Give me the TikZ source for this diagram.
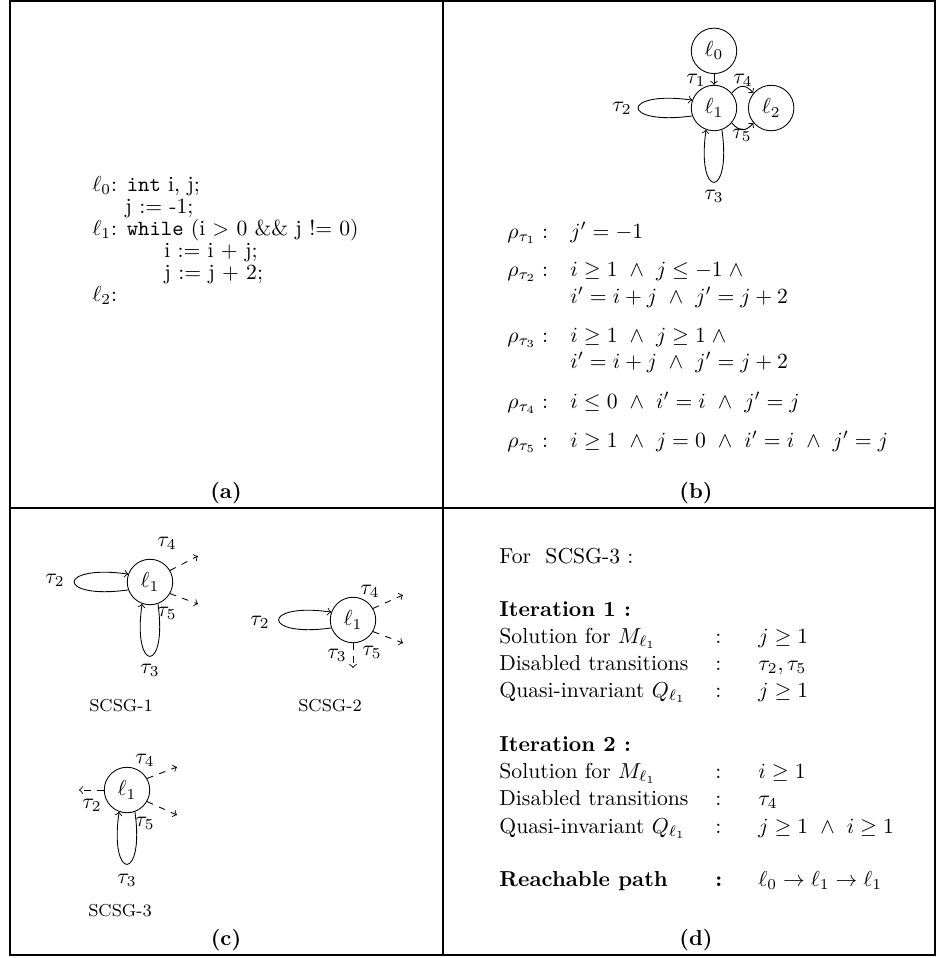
\documentclass[tikz,border=0pt]{standalone}
\usepackage{amsmath,amssymb}
\usetikzlibrary{positioning}

\begin{document}
\begin{tikzpicture}[
  x=0.4619pt,y=-0.4619pt,
  loc/.style={draw,circle,minimum size=21pt,inner sep=0pt},
  arr/.style={->},
  darr/.style={->,dashed},
  txt/.style={anchor=base west,inner sep=0pt},
  lbl/.style={inner sep=0pt},
  capt/.style={inner sep=0pt,font=\bfseries},
  sub/.style={inner sep=0pt,font=\footnotesize},
  tabline/.style={line width=0.9pt}
]
  \useasboundingbox (0,0) rectangle (945,958);

  % table frame
  \draw[tabline] (10,1) rectangle (935,955);
  \draw[tabline] (443,1) -- (443,955);
  \draw[tabline] (10,508) -- (935,508);

  \node[capt] (capa) at (226,493) {(a)};
  \node[capt] (capb) at (696,493) {(b)};
  \node[capt] (capc) at (226,940) {(c)};
  \node[capt] (capd) at (696,940) {(d)};

  % (a) program
  \node[txt] (a0) at (92,191) {$\ell_0$: \texttt{int} i, j;};
  \node[txt] (a1) at (125,213) {j := -1;};
  \node[txt] (a2) at (92,235) {$\ell_1$: \texttt{while} (i $>$ 0 \&\& j != 0)};
  \node[txt] (a3) at (164,257) {i := i + j;};
  \node[txt] (a4) at (164,279) {j := j + 2;};
  \node[txt] (a5) at (92,301) {$\ell_2$:};

  % (b) control flow graph
  \node[loc] (b1) at (714,108) {$\ell_1$};
  \node[loc,above=5pt of b1] (b0) {$\ell_0$};
  \node[loc,right=5pt of b1] (b2) {$\ell_2$};
  \draw[arr] (b0) -- (b1);
  \draw[arr] (b1.40) .. controls +(8,-9) and +(-8,-9) .. (b2.140);
  \draw[arr] (b1.-40) .. controls +(8,9) and +(-8,9) .. (b2.-140);
  \draw[arr] (b1.200) .. controls +(-72,10) and +(-72,-10) .. (b1.160);
  \draw[arr] (b1.-70) .. controls +(10,70) and +(-10,70) .. (b1.-110);
  \node[lbl] (bt1) at (696,80) {$\tau_1$};
  \node[lbl] (bt4) at (743,80) {$\tau_4$};
  \node[lbl] (bt5) at (742,135) {$\tau_5$};
  \node[lbl] (bt2) at (622,108) {$\tau_2$};
  \node[lbl] (bt3) at (714,196) {$\tau_3$};

  % (b) transition relations
  \node[txt] (r1) at (507,238) {$\rho_{\tau_1}:$};
  \node[txt] (e1) at (570,238) {$j' = -1$};
  \node[txt] (r2) at (507,276) {$\rho_{\tau_2}:$};
  \node[txt] (e2) at (570,276) {$i \geq 1 \ \wedge\ j \leq {-1}\;\wedge$};
  \node[txt] (e2b) at (570,303) {$i' = i + j \ \wedge\ j' = j + 2$};
  \node[txt] (r3) at (507,342) {$\rho_{\tau_3}:$};
  \node[txt] (e3) at (570,342) {$i \geq 1 \ \wedge\ j \geq 1\;\wedge$};
  \node[txt] (e3b) at (570,368) {$i' = i + j \ \wedge\ j' = j + 2$};
  \node[txt] (r4) at (507,408) {$\rho_{\tau_4}:$};
  \node[txt] (e4) at (570,408) {$i \leq 0 \ \wedge\ i' = i \ \wedge\ j' = j$};
  \node[txt] (r5) at (507,447) {$\rho_{\tau_5}:$};
  \node[txt] (e5) at (570,447) {$i \geq 1 \ \wedge\ j = 0 \ \wedge\ i' = i \ \wedge\ j' = j$};

  % (c) SCSG-1
  \node[loc] (c1) at (150,582) {$\ell_1$};
  \coordinate (c1a) at (198,556);
  \coordinate (c1b) at (198,604);
  \draw[arr] (c1.200) .. controls +(-72,10) and +(-72,-10) .. (c1.160);
  \draw[arr] (c1.-70) .. controls +(10,70) and +(-10,70) .. (c1.-110);
  \draw[darr] (c1.30) -- (c1a);
  \draw[darr] (c1.-30) -- (c1b);
  \node[lbl] (c1t2) at (55,580) {$\tau_2$};
  \node[lbl] (c1t4) at (167,543) {$\tau_4$};
  \node[lbl] (c1t5) at (167,613) {$\tau_5$};
  \node[lbl] (c1t3) at (150,670) {$\tau_3$};
  \node[sub] (s1) at (121,706) {SCSG-1};

  % (c) SCSG-2
  \node[loc] (c2) at (353,620) {$\ell_1$};
  \coordinate (c2a) at (403,595);
  \coordinate (c2b) at (403,643);
  \coordinate (c2c) at (353,668);
  \draw[arr] (c2.200) .. controls +(-70,10) and +(-70,-10) .. (c2.160);
  \draw[darr] (c2.30) -- (c2a);
  \draw[darr] (c2.-30) -- (c2b);
  \draw[darr] (c2.south) -- (c2c);
  \node[lbl] (c2t2) at (260,622) {$\tau_2$};
  \node[lbl] (c2t4) at (370,591) {$\tau_4$};
  \node[lbl] (c2t3) at (337,655) {$\tau_3$};
  \node[lbl] (c2t5) at (372,652) {$\tau_5$};
  \node[sub] (s2) at (330,706) {SCSG-2};

  % (c) SCSG-3
  \node[loc] (c3) at (127,790) {$\ell_1$};
  \coordinate (c3a) at (177,767);
  \coordinate (c3b) at (177,815);
  \coordinate (c3c) at (79,790);
  \draw[arr] (c3.-70) .. controls +(10,70) and +(-10,70) .. (c3.-110);
  \draw[darr] (c3.30) -- (c3a);
  \draw[darr] (c3.-30) -- (c3b);
  \draw[darr] (c3.west) -- (c3c);
  \node[lbl] (c3t4) at (145,760) {$\tau_4$};
  \node[lbl] (c3t2) at (92,805) {$\tau_2$};
  \node[lbl] (c3t5) at (145,823) {$\tau_5$};
  \node[lbl] (c3t3) at (127,880) {$\tau_3$};
  \node[sub] (s3) at (120,911) {SCSG-3};

  % (d) iterations
  \node[txt] (d0) at (499,563) {For~~SCSG-3 :};
  \node[txt] (dh1) at (499,616) {\textbf{Iteration 1 :}};
  \node[txt] (dh2) at (499,751) {\textbf{Iteration 2 :}};
  \foreach \n/\y/\l/\v in {
      1/643/{Solution for $M_{\ell_1}$}/{$j \geq 1$},
      2/670/{Disabled transitions}/{$\tau_2, \tau_5$},
      3/697/{Quasi-invariant $Q_{\ell_1}$}/{$j \geq 1$},
      4/778/{Solution for $M_{\ell_1}$}/{$i \geq 1$},
      5/805/{Disabled transitions}/{$\tau_4$},
      6/833/{Quasi-invariant $Q_{\ell_1}$}/{$j \geq 1 \ \wedge\ i \geq 1$}} {
    \node[txt] (dl\n) at (499,\y) {\l};
    \node[txt] (dc\n) at (715,\y) {:};
    \node[txt] (dv\n) at (758,\y) {\v};
  }
  \node[txt] (dl7) at (499,886) {\textbf{Reachable path}};
  \node[txt] (dc7) at (715,886) {\textbf{:}};
  \node[txt] (dv7) at (758,886) {$\ell_0 \rightarrow \ell_1 \rightarrow \ell_1$};
\end{tikzpicture}
\end{document}
